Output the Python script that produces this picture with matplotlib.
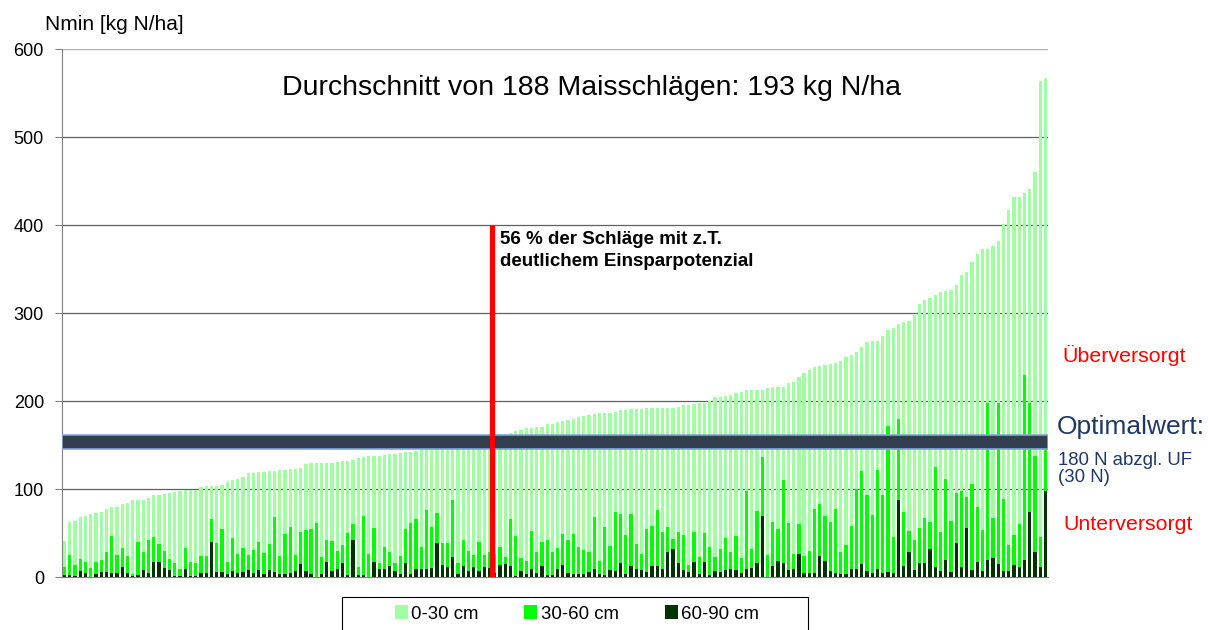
import numpy as np
import matplotlib
matplotlib.use("Agg")
import matplotlib.pyplot as plt
from matplotlib.patches import Rectangle

plt.rcParams["font.family"] = ["Liberation Sans", "DejaVu Sans"]

# --- Daten: Nmin je Schlag (kg N/ha), sortiert nach Gesamtwert ---
# Oberkante des Balkens 0-90 cm (gesamt)
n_0_90 = [
    41, 62, 64, 68, 69, 71.5, 72.5, 74, 77, 79, 80, 83, 84, 87, 88, 88, 90, 93, 93, 94,
    96, 97, 98, 99, 99, 99, 102.5, 103, 103, 103, 105, 108,
    110, 111, 114, 118, 118, 119, 119, 120, 121, 121.5, 122, 122.5, 123, 124, 128, 129,
    130, 130, 130, 130, 130.5, 131.5, 132, 133, 135, 136, 137, 137.5, 138, 139, 140, 140, 141,
    142, 142.5, 143, 144,
    146, 147, 148, 149, 150, 151, 152, 153, 154, 155, 156, 157, 158, 160,
    162, 163, 163.5, 166, 167, 169, 169.5, 170, 171, 173.5, 174, 176, 177.5, 178,
    179, 181.5, 183.5, 184, 185.5, 186, 186, 186.5, 187, 189.5, 190, 190.5, 191, 191, 191.5,
    191.5, 192, 192.5, 192.5, 192.5, 193.5, 195, 196, 197, 197.5, 198, 200, 204, 205, 205.5, 207,
    208.7, 210.6, 212.1, 212.5, 212.9, 212.9, 214.8, 215.9, 215.9, 215.9, 220.8, 222, 226.9,
    231.4, 235.6, 239, 240.2, 240.5, 241.7, 243.2, 245.5, 249.6, 251.9, 255.3, 261.4, 266.7,
    267.8, 268.6, 273.5, 281.1, 283,
    288, 290, 290.5, 298, 310, 315, 317, 320, 323.5, 324.5, 326, 331.5, 343, 347, 357.5,
    367.5, 372.5, 373, 376, 381.5, 401, 416.5, 431.5, 432, 436, 441, 460.5, 564, 566.5,
]

# Oberkante 30-90 cm
n_30_90 = [
    11.7, 25, 13.6, 20.4, 16.7, 10.6, 16.7, 19.3, 28.4, 46.6, 25, 33, 23.9, 3, 40, 28.4,
    42, 45.5, 38, 29.5, 20.4, 16, 9, 33, 17.4, 16, 24, 24, 65.9, 38.6, 55, 16.7,
    44.7, 26.5, 33, 24.6, 30.7, 39.8, 27.3, 37.5, 67.8, 24.2, 48.9, 56.8, 25.4, 51.1, 53.4,
    54.9, 61.4, 22.7, 42, 40.9, 29.5, 36.4, 49.6, 60.2, 11.4, 69.3, 26.5, 55.7, 15.9, 33.7,
    28.4, 15.9, 23.9,
    54.5, 61.4, 65.9, 34.1, 76.5, 56.8, 72.7, 38.6, 38.6, 87.5, 16.3, 42, 29.5, 25, 39.8,
    25.4, 28.4, 26.5, 34.5, 22.7, 65.9, 47, 22, 18.2, 52.3, 28.4, 39.8, 42, 28.4, 33.3, 48.5, 42.4,
    48.9, 34.1, 30.7, 28.4, 68.6, 18.2, 56.8, 35.2, 73.9, 71.6, 47.7, 71.6, 37.5, 26.1, 54.5,
    58, 75.8, 51.5, 56.8, 42.8, 51.1, 47.7, 13.6, 51.5, 22.7, 50, 34.1, 22.7, 31.8, 44.3, 28.4,
    46.6, 21.2, 98.1, 31.8, 75, 136, 25.4, 62.5, 54.9, 110.2, 61.4, 25.8, 60.2, 24.2, 29.9,
    77.7, 83.3, 69.7, 62.9, 77.7, 28.8, 36.7, 58.3, 99.6, 120.1, 93.6, 70.8, 121.2, 93.6, 171.2, 45.8,
    180, 74.2, 52.3, 42, 55.3, 67.4, 62.1, 125.4, 51.5, 111, 63.6, 95.8, 97.7, 91.3, 105.7,
    79.9, 53.4, 198, 67.4, 198, 89, 36.4, 47.7, 59.8, 229.5, 198, 137.9, 45.8, 152,
]

# 60-90 cm
n_60_90 = [
    2.3, 2.3, 1.5, 6.8, 4.5, 0.4, 3.8, 6, 6, 4.5, 4.5, 11.7, 4.5, 1, 2, 7.6, 4.5, 17.4,
    17.4, 10.6, 7.6, 1.5, 0.8, 8.7, 1.5, 1.5, 4.5, 4.5, 40, 5.7, 5.7, 3.8,
    6.8, 4.9, 5.7, 7.6, 4.9, 7.6, 3.8, 7.6, 5.7, 3.8, 3.8, 4.9, 6.8, 14.8, 6.8, 3.8, 0.5,
    3.8, 17.4, 6.8, 8.7, 15.9, 1.9, 41.7, 1.9, 2.7, 0.5, 17, 8.7, 9.5, 12.9, 6.8, 3,
    16.3, 3.8, 8.7, 9.5, 9.5, 10.6, 38.6, 13.6, 11.4, 22.7, 3.8, 12.9, 6.8, 11.4, 6.8, 11.4,
    10.6, 4.9, 13.6, 15.2, 12.9, 1.1, 6.8, 3.8, 9.5, 4.9, 12.9, 2.3, 2.3, 9.5, 13.6, 4.9,
    3.4, 3.4, 3.4, 5.7, 9.1, 3.4, 2.3, 8, 6.8, 15.5, 3.4, 12.5, 9.1, 8, 5.7, 12.5, 12.5, 9.1,
    28.4, 31.8, 15.5, 8, 5.7, 16.7, 3.4, 16.7, 2.3, 6.8, 5.7, 8, 9.1,
    8, 4.2, 8.7, 10.6, 16.3, 69.3, 0.4, 12.5, 18.6, 16.3, 8, 9.5, 26.5, 4.9, 4.2, 4.9, 24.2,
    18.6, 7.2, 4.9, 3, 3, 9.5, 9.5, 15.2, 6.8, 4.2, 9.5, 4.9, 6.1, 4.9,
    88, 12.9, 28.8, 8, 15.5, 15.5, 31.4, 11, 6.8, 19.3, 5.3, 38.3, 11, 55.3, 8, 17.4, 6.8,
    19.3, 21.2, 14.4, 6.8, 6.8, 13.6, 11, 19.3, 73.5, 28.8, 11.7, 98,
]

schichten = ["0-30 cm", "30-60 cm", "60-90 cm"]
farben = ["#A0FFA0", "#00FF00", "#003300"]

optimal_band = (146, 161)   # Optimalwert 180 N abzgl. UF (30 N)
anteil_grenze = 81.5        # Trennlinie: 56 % der Schlaege rechts davon
grenze_hoehe = 400
yticks = [0, 100, 200, 300, 400, 500, 600]

# --- Plot ---
fig = plt.figure(figsize=(12.08, 6.3), dpi=100)
ax = fig.add_axes([62 / 1208, 1 - 577 / 630, 986 / 1208, 528 / 630])

x = np.arange(len(n_0_90))
w = 0.62
ax.bar(x, n_0_90, width=w, color=farben[0], label=schichten[0], zorder=2)
ax.bar(x, n_30_90, width=w, color=farben[1], label=schichten[1], zorder=3)
ax.bar(x, n_60_90, width=w, color=farben[2], label=schichten[2], zorder=4)

ax.axhspan(optimal_band[0], optimal_band[1], facecolor="#323E4F",
           edgecolor="#7FA6D6", linewidth=1.2, zorder=5)
ax.vlines(anteil_grenze, 0, grenze_hoehe, color="#FF0000", linewidth=3.8, zorder=6)

ax.set_xlim(-0.5, len(n_0_90) - 0.5)
ax.set_ylim(0, 600)
ax.set_yticks(yticks)
ax.set_xticks([])
ax.tick_params(axis="y", labelsize=13, length=5, color="#808080", pad=8)
for yy in yticks[1:-1]:
    ax.axhline(yy, color="#606060", linewidth=0.9, zorder=1)
ax.axhline(600, color="#B0B0B0", linewidth=1.0, zorder=1)

for s in ["top", "right"]:
    ax.spines[s].set_visible(False)
ax.spines["left"].set_color("#808080")
ax.spines["bottom"].set_color("#808080")

# --- Texte ---
fig.text(45 / 1208, 1 - 25 / 630, "Nmin [kg N/ha]", fontsize=15, va="center", ha="left")
fig.text(592 / 1208, 1 - 88 / 630, "Durchschnitt von 188 Maisschlägen: 193 kg N/ha",
         fontsize=20.5, ha="center", va="center")
fig.text(500 / 1208, 1 - 231 / 630, "56 % der Schläge mit z.T.\ndeutlichem Einsparpotenzial",
         fontsize=13.5, fontweight="bold", ha="left", va="top", linespacing=1.4)
fig.text(1062 / 1208, 1 - 355 / 630, "Überversorgt", fontsize=15.4, color="#FF0000",
         ha="left", va="center")
fig.text(1057 / 1208, 1 - 427 / 630, "Optimalwert:", fontsize=19, color="#1F3864",
         ha="left", va="center")
fig.text(1058 / 1208, 1 - 469 / 630, "180 N abzgl. UF\n(30 N)", fontsize=13.4,
         color="#1F3864", ha="left", va="center", linespacing=1.05)
fig.text(1063 / 1208, 1 - 524 / 630, "Unterversorgt", fontsize=15.4, color="#FF0000",
         ha="left", va="center")

# Legende: Rahmen separat, unten abgeschnitten wie im Original
fig.patches.append(Rectangle((342 / 1208, -0.01), 466 / 1208, 1 - 597 / 630 + 0.01,
                             transform=fig.transFigure, facecolor="white",
                             edgecolor="black", linewidth=0.8, zorder=0))
leg = fig.legend(loc="center", bbox_to_anchor=(577 / 1208, 1 - 614 / 630), ncol=3,
                 fontsize=13.4, frameon=False,
                 handlelength=0.7, handleheight=0.7, handletextpad=0.2,
                 columnspacing=2.45, borderpad=0, borderaxespad=0)

fig.savefig("out.png", dpi=100)
